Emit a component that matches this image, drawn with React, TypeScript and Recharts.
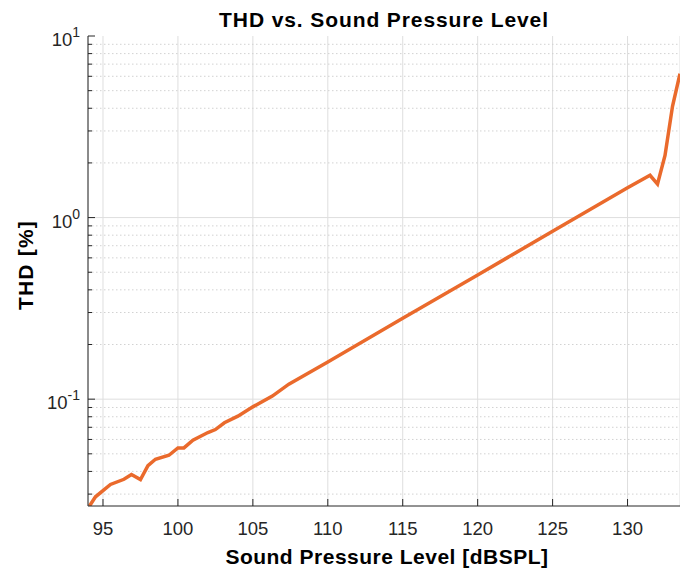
import React from "react";
import {
  LineChart,
  Line,
  XAxis,
  YAxis,
  CartesianGrid,
  ReferenceLine,
  Label,
} from "recharts";

// sound pressure level [dBSPL] and THD [%]
const spl = [
  94.1, 94.5, 95.5, 96.4, 96.9, 97.5, 98, 98.5, 99.4, 100, 100.4, 101, 102,
  102.5, 103.1, 104, 105, 106.3, 107.4, 110, 115, 120, 125, 130, 131.5, 132,
  132.5, 133, 133.5,
];
const thd = [
  0.0258, 0.029, 0.0339, 0.0362, 0.0385, 0.0361, 0.043, 0.0467, 0.0491,
  0.0539, 0.0539, 0.0594, 0.0655, 0.068, 0.0741, 0.0806, 0.0907, 0.104, 0.121,
  0.16, 0.279, 0.483, 0.84, 1.46, 1.71, 1.53, 2.2, 4.1, 6.2,
];

const xTicks = [95, 100, 105, 110, 115, 120, 125, 130];
const yMajor = [0.1, 1, 10];
const yMinor = [
  0.03, 0.04, 0.05, 0.06, 0.07, 0.08, 0.09, 0.2, 0.3, 0.4, 0.5, 0.6, 0.7, 0.8,
  0.9, 2, 3, 4, 5, 6, 7, 8, 9,
];

const data = spl.map((s, i) => ({ spl: s, thd: thd[i] }));

const FONT = "'Liberation Sans', Arial, sans-serif";
const AXIS = "#262626";

const YTick = (props: any) => {
  const { x, y, payload } = props;
  const v = payload.value;
  const major = yMajor.includes(v);
  const ax = x + 8;
  return (
    <g>
      <line x1={ax} y1={y} x2={ax + (major ? 7 : 4)} y2={y} stroke={AXIS} />
      {major && (
        <text x={x} y={y + 10} textAnchor="end" fontSize={18.5} fill={AXIS} fontFamily={FONT}>
          10
          <tspan dy={-9} fontSize={14}>
            {Math.round(Math.log10(v))}
          </tspan>
        </text>
      )}
    </g>
  );
};

const XTick = (props: any) => {
  const { x, y, payload } = props;
  return (
    <g>
      <line x1={x} y1={y - 12} x2={x} y2={y - 19} stroke={AXIS} />
      <text x={x} y={y + 17} textAnchor="middle" fontSize={18.5} fill={AXIS} fontFamily={FONT}>
        {payload.value}
      </text>
    </g>
  );
};

const TopTick = (props: any) => {
  const { x, payload } = props;
  return <line key={payload.value} x1={x} y1={36} x2={x} y2={43} stroke={AXIS} />;
};

export default function App() {
  return (
    <div style={{ position: "absolute", left: 0, top: 0, background: "#fff" }}>
      <LineChart
        width={680}
        height={572}
        data={data}
        margin={{ top: 36, right: 0, left: 0, bottom: 0 }}
      >
        <CartesianGrid horizontal={false} stroke="#dedede" strokeWidth={1} xAxisId="bottom" />
        {yMinor.map((v) => (
          <ReferenceLine
            key={"m" + v}
            y={v}
            xAxisId="bottom"
            stroke="#d2d2d2"
            strokeDasharray="1.5 2.5"
          />
        ))}
        {yMajor.slice(0, 2).map((v) => (
          <ReferenceLine key={"M" + v} y={v} xAxisId="bottom" stroke="#dedede" />
        ))}
        <XAxis
          xAxisId="bottom"
          dataKey="spl"
          type="number"
          domain={[94, 133.5]}
          allowDataOverflow
          ticks={xTicks}
          height={66}
          tickSize={0}
          tickMargin={12}
          tickLine={false}
          tick={<XTick />}
          axisLine={{ stroke: AXIS }}
        >
          <Label
            content={(p: any) => {
              const vb = p.viewBox;
              return (
                <text
                  x={vb.x + vb.width / 2 + 3}
                  y={564}
                  textAnchor="middle"
                  fontSize={21}
                  letterSpacing={0.5}
                  fontWeight="bold"
                  fill="#000"
                  fontFamily={FONT}
                >
                  Sound Pressure Level [dBSPL]
                </text>
              );
            }}
          />
        </XAxis>
        <XAxis
          xAxisId="top"
          orientation="top"
          dataKey="spl"
          type="number"
          domain={[94, 133.5]}
          allowDataOverflow
          ticks={xTicks}
          height={0}
          tickSize={0}
          tickLine={false}
          tick={<TopTick />}
          axisLine={{ stroke: AXIS }}
        />
        <YAxis
          dataKey="thd"
          scale="log"
          type="number"
          domain={[0.0258, 10]}
          allowDataOverflow
          ticks={[...yMajor, ...yMinor]}
          interval={0}
          width={88}
          tickSize={0}
          tickMargin={8}
          tickLine={false}
          tick={<YTick />}
          axisLine={{ stroke: AXIS }}
        >
          <Label
            content={() => (
              <text
                x={33}
                y={265}
                transform="rotate(-90 33 265)"
                textAnchor="middle"
                fontSize={21}
                letterSpacing={1.2}
                fontWeight="bold"
                fill="#000"
                fontFamily={FONT}
              >
                THD [%]
              </text>
            )}
          />
          <Label
            content={() => (
              <text
                x={384}
                y={27}
                textAnchor="middle"
                fontSize={21}
                letterSpacing={0.9}
                fontWeight="bold"
                fill="#000"
                fontFamily={FONT}
              >
                THD vs. Sound Pressure Level
              </text>
            )}
          />
        </YAxis>
        <Line
          xAxisId="bottom"
          type="linear"
          dataKey="thd"
          stroke="#EA6A2C"
          strokeWidth={3.5}
          dot={false}
          isAnimationActive={false}
        />
      </LineChart>
    </div>
  );
}
